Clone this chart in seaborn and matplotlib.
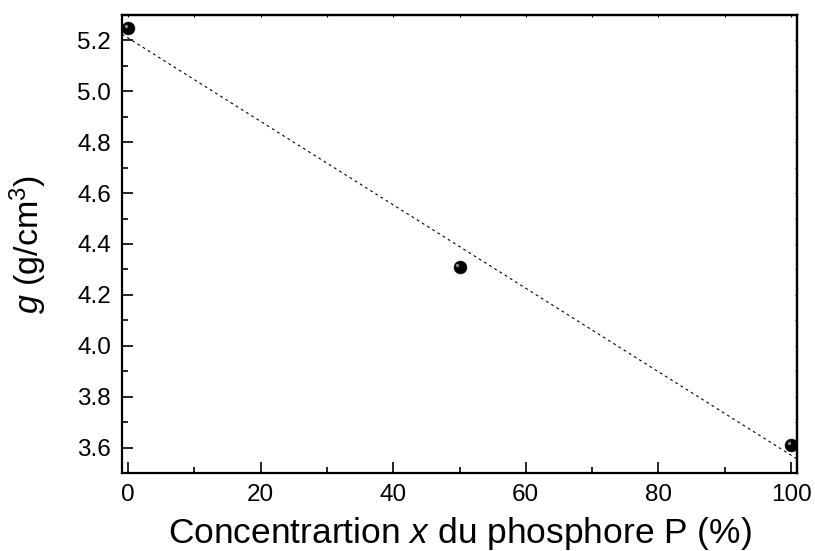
import numpy as np
import pandas as pd
import matplotlib
matplotlib.use("Agg")
import matplotlib.pyplot as plt
import seaborn as sns
from matplotlib.ticker import MultipleLocator

concentration = [0, 50, 100]
density = [5.25, 4.31, 3.61]

df = pd.DataFrame({"x": concentration, "g": density})

sns.set_style("ticks")
plt.rcParams['font.family'] = ['Liberation Sans', 'DejaVu Sans']
plt.rcParams['mathtext.fontset'] = 'custom'
plt.rcParams['mathtext.it'] = 'Liberation Sans:italic'
plt.rcParams['mathtext.rm'] = 'Liberation Sans'
plt.rcParams['text.color'] = 'black'
plt.rcParams['axes.labelcolor'] = 'black'
plt.rcParams['xtick.color'] = 'black'
plt.rcParams['ytick.color'] = 'black'
plt.rcParams['axes.edgecolor'] = 'black'

fig = plt.figure(figsize=(8.15, 5.51), dpi=100)
ax = fig.add_axes([122/815, 1 - 473/551, (797-122)/815, (473-15)/551])
ax.set_xlim(-0.9, 100.9)
ax.set_ylim(3.5, 5.3)

sns.regplot(data=df, x="x", y="g", ax=ax, ci=None, truncate=False, scatter=False,
            line_kws=dict(color="black", lw=0.8, linestyle=(0, (2.5, 3))))
sns.scatterplot(data=df, x="x", y="g", ax=ax, color="black", s=85,
                edgecolor="#111111", linewidth=0.5, zorder=5)
# small highlight for the spheres
ax.scatter(df["x"] - 0.35, df["g"] + 0.008, s=6, color="#888888", zorder=6, linewidths=0)

ax.set_xlim(-0.9, 100.9)
ax.set_ylim(3.5, 5.3)
ax.xaxis.set_major_locator(MultipleLocator(20))
ax.xaxis.set_minor_locator(MultipleLocator(10))
ax.yaxis.set_major_locator(MultipleLocator(0.2))
ax.yaxis.set_minor_locator(MultipleLocator(0.1))
ax.tick_params(which="major", direction="in", length=8, width=1.2, labelsize=17.5,
               top=False, right=False, pad=8)
ax.tick_params(which="minor", direction="in", length=4.5, width=1.2, top=False, right=False)
for sp in ax.spines.values():
    sp.set_linewidth(1.6)
    sp.set_visible(True)

# tiny ticks on top and right
secx = ax.secondary_xaxis('top')
secx.xaxis.set_major_locator(MultipleLocator(10))
secx.tick_params(direction="in", length=1.5, width=0.8, labeltop=False)
secx.spines['top'].set_linewidth(1.6)
secy = ax.secondary_yaxis('right')
secy.yaxis.set_major_locator(MultipleLocator(0.1))
secy.tick_params(direction="in", length=1.5, width=0.8, labelright=False)
secy.spines['right'].set_linewidth(1.6)

ax.set_xlabel("Concentrartion $x$ du phosphore P (%)", fontsize=25.5, labelpad=6.5)
ax.set_ylabel("$g$ (g/cm$^3$)", fontsize=24.5, labelpad=20)

fig.savefig("out.png", dpi=100)
